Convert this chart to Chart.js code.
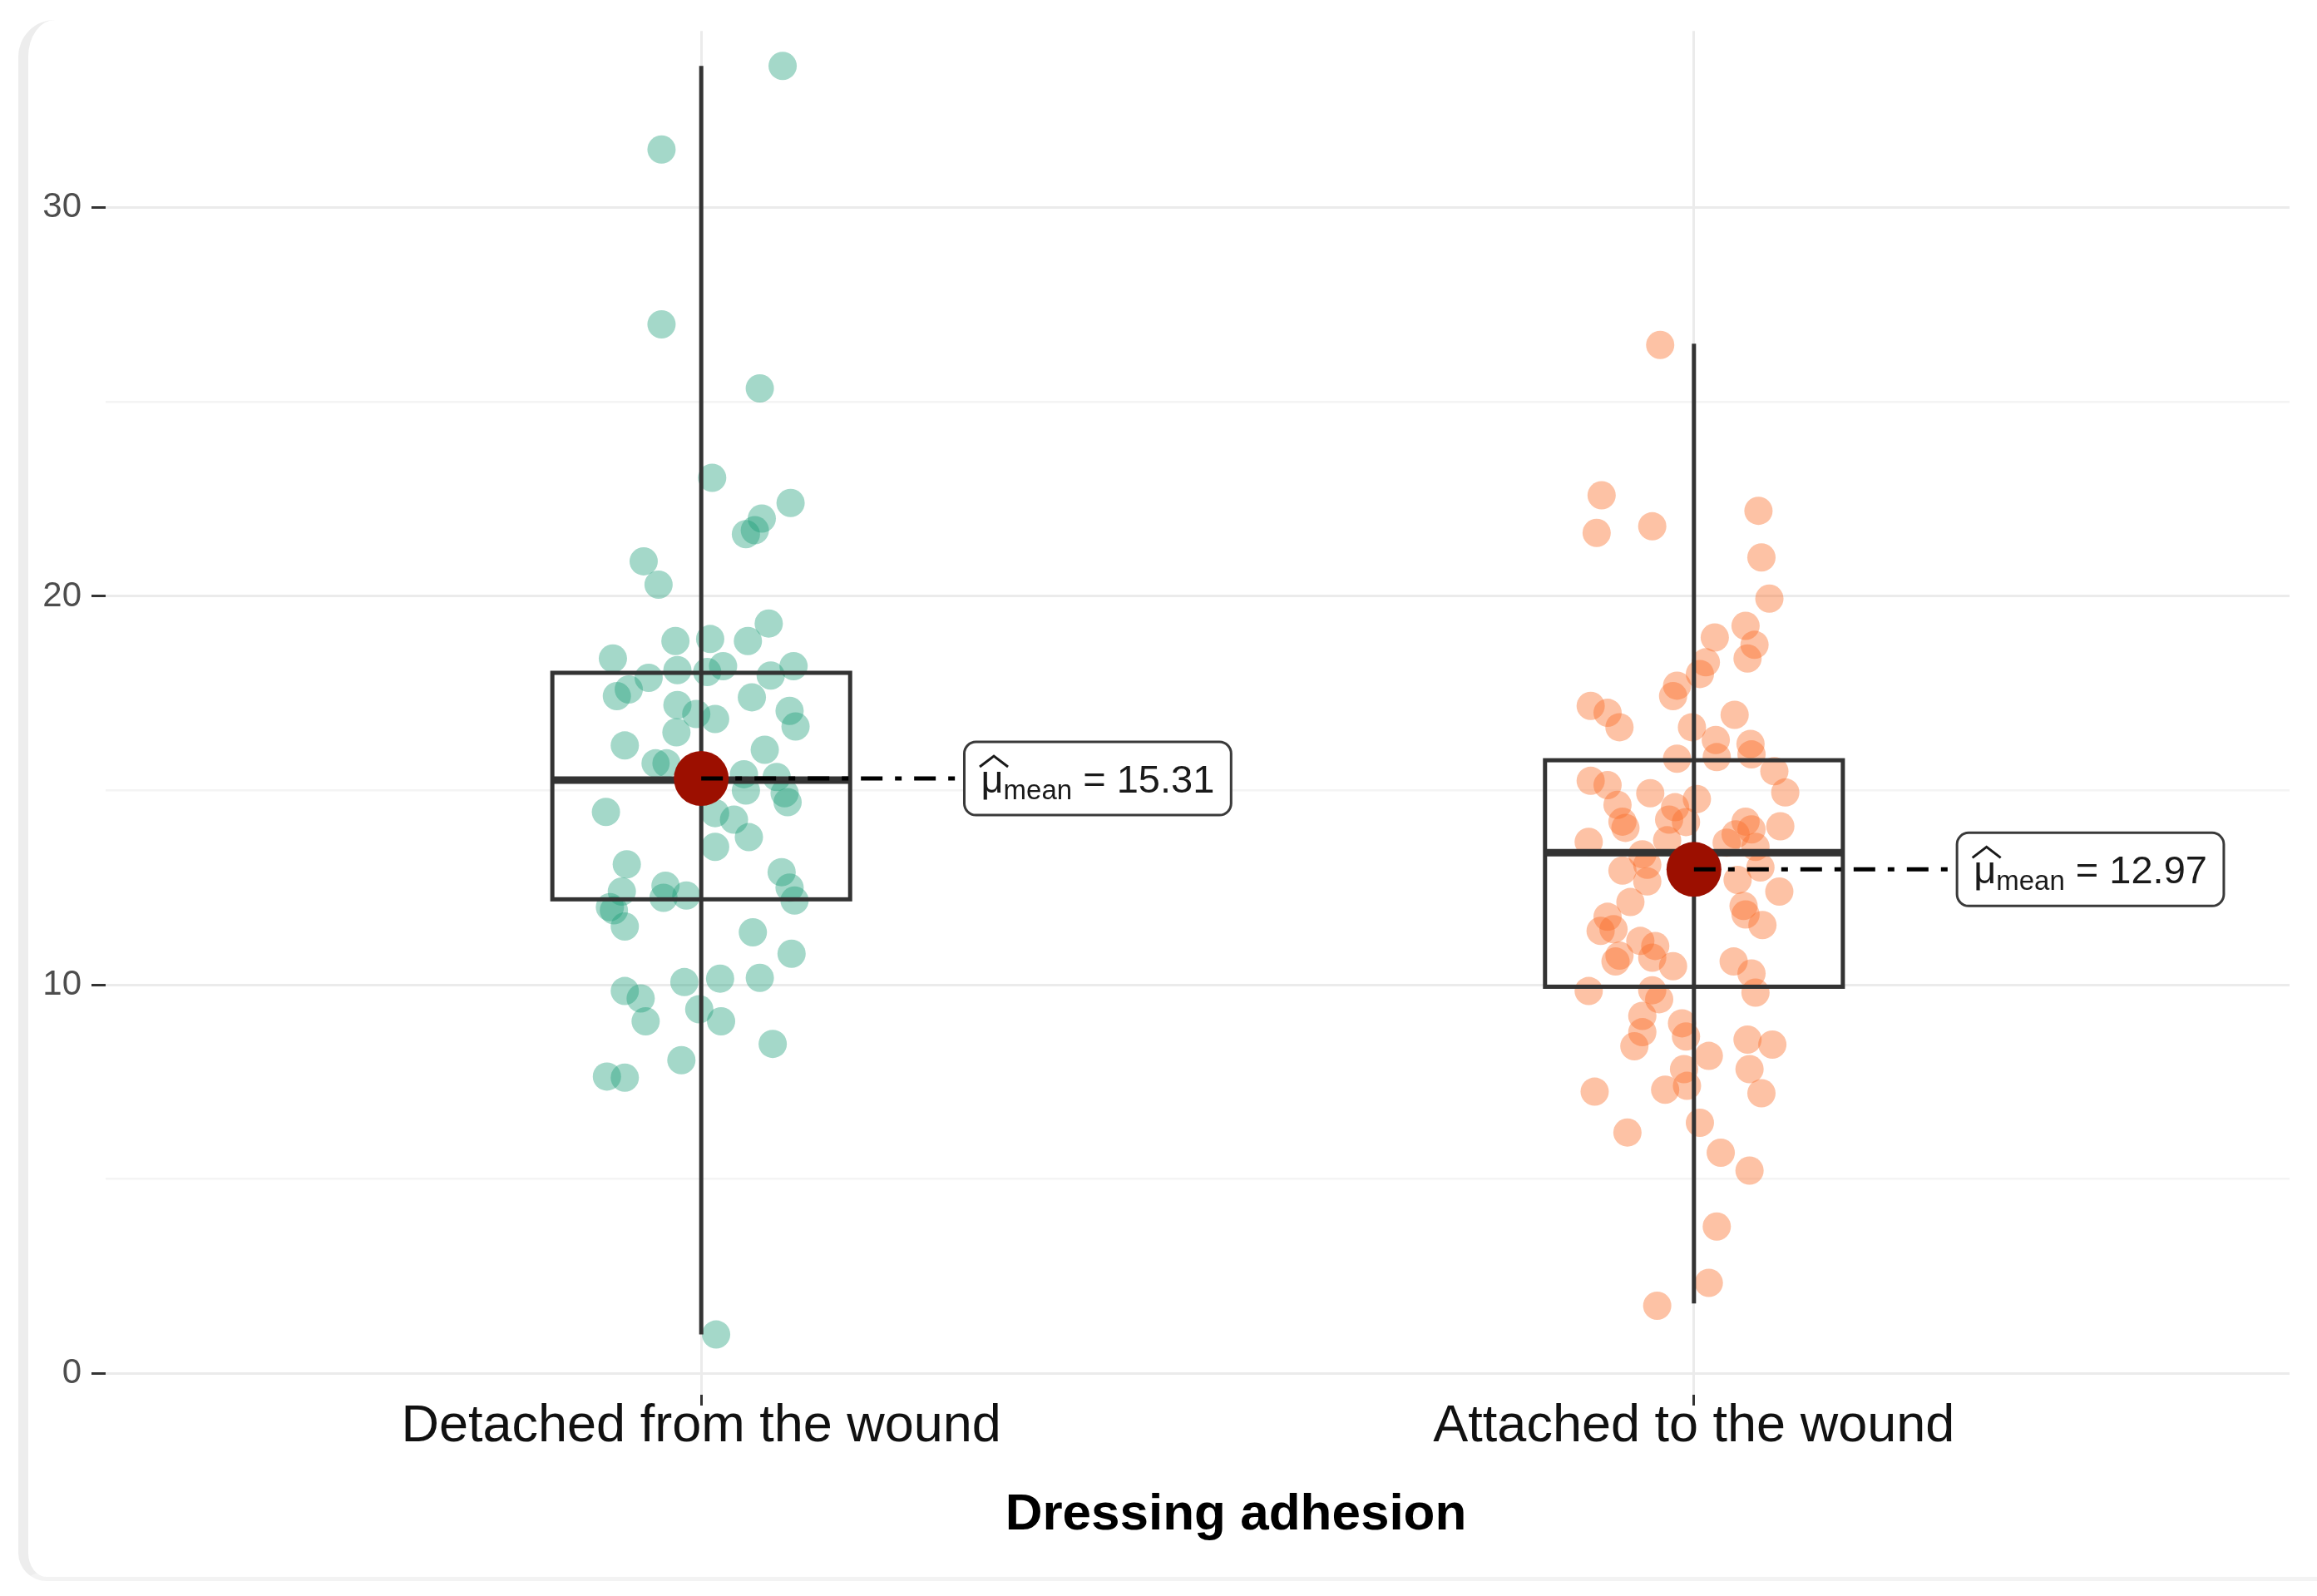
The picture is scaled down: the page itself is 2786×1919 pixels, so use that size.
<!DOCTYPE html>
<html>
<head>
<meta charset="utf-8">
<title>Dressing adhesion</title>
<script src="https://cdn.jsdelivr.net/npm/chart.js@4.4.1/dist/chart.umd.min.js"></script>
<style>
  html, body { margin: 0; padding: 0; background: #fff; overflow: hidden; }
  #frame {
    position: absolute; left: 22px; top: 24px; width: 2900px; height: 1872px;
    border-left: 12px solid #ededed; border-bottom: 5px solid #f3f3f3;
    border-radius: 44px 0 0 34px;
  }
  #chart { position: absolute; left: 0; top: 0; width: 2786px; height: 1919px; }
</style>
</head>
<body>
<div id="frame"></div>
<canvas id="chart" width="2786" height="1919"></canvas>
<script>
// groups on the x axis
const groups = ['Detached from the wound', 'Attached to the wound'];
const xTitle = 'Dressing adhesion';

// raw observations (y) and their horizontal jitter (in category units)
const detachedValues = [33.65, 31.5, 27.0, 25.35, 23.05, 22.4, 22.0, 21.6, 21.7, 20.9,
  20.3, 19.3, 18.85, 18.9, 18.85, 18.4, 18.2, 18.05, 18.2, 17.96,
  18.1, 17.9, 17.6, 17.43, 17.2, 16.97, 16.84, 17.4, 17.05, 16.65,
  16.5, 16.16, 16.05, 15.7, 15.7, 15.42, 15.35, 15.0, 14.93, 14.7,
  14.45, 14.42, 14.25, 13.8, 13.55, 13.1, 12.9, 12.5, 12.17, 12.4,
  12.55, 12.24, 12.3, 11.92, 12.0, 11.5, 11.35, 10.8, 10.07, 10.16,
  10.18, 9.84, 9.65, 9.06, 9.37, 9.06, 8.48, 8.06, 7.64, 7.61, 1.0];
const detachedJitter = [0.082, -0.040, -0.040, 0.059, 0.011, 0.090, 0.061, 0.045, 0.054, -0.058,
  -0.043, 0.068, -0.026, 0.009, 0.047, -0.089, 0.022, 0.006, 0.093, 0.070,
  -0.024, -0.053, -0.073, -0.085, -0.024, -0.005, 0.014, 0.051, 0.089, 0.095,
  -0.025, -0.077, 0.064, -0.046, -0.035, 0.043, 0.076, 0.045, 0.084, 0.087,
  -0.096, 0.014, 0.033, 0.048, 0.014, -0.075, 0.081, 0.089, 0.094, -0.080,
  -0.036, -0.038, -0.015, -0.088, -0.092, -0.077, 0.052, 0.091, -0.017, 0.019,
  0.059, -0.077, -0.061, -0.056, -0.002, 0.020, 0.072, -0.020, -0.095, -0.077, 0.015];

const attachedValues = [26.47, 22.6, 21.63, 21.8, 22.2, 21.0, 19.94, 19.24, 18.75, 18.4,
  18.94, 18.3, 18.0, 17.7, 17.43, 17.18, 17.0, 16.63, 16.63, 16.95,
  16.3, 16.2, 15.82, 15.86, 15.93, 15.5, 14.95, 15.25, 15.14, 14.93,
  14.63, 14.78, 14.57, 14.2, 14.04, 14.25, 14.19, 14.2, 14.0, 14.08,
  13.87, 13.68, 13.72, 13.66, 13.55, 13.36, 12.94, 13.09, 12.7, 13.02,
  12.66, 12.4, 12.13, 11.75, 11.39, 11.43, 12.03, 11.81, 11.54, 11.13,
  11.0, 10.7, 10.6, 10.75, 10.48, 10.6, 10.29, 9.84, 9.86, 9.63,
  9.8, 9.2, 9.01, 8.67, 8.78, 8.42, 8.17, 8.59, 8.46, 7.83,
  7.83, 7.4, 7.3, 7.25, 7.21, 6.2, 6.45, 5.68, 5.22, 3.78,
  2.33, 1.74];
const attachedJitter = [-0.034, -0.093, -0.098, -0.042, 0.065, 0.068, 0.076, 0.052, 0.061, 0.054,
  0.021, 0.012, 0.006, -0.017, -0.021, -0.104, -0.087, -0.075, -0.002, 0.041,
  0.022, 0.057, -0.017, 0.023, 0.058, 0.081, 0.092, -0.104, -0.087, -0.044,
  -0.077, 0.003, -0.019, -0.072, -0.069, -0.025, -0.008, 0.052, 0.058, 0.087,
  0.042, -0.106, -0.027, 0.033, 0.062, -0.052, -0.072, -0.047, 0.044, 0.067,
  -0.047, 0.086, -0.064, -0.087, -0.094, -0.081, 0.050, 0.052, 0.069, -0.054,
  -0.039, -0.042, -0.079, -0.075, -0.021, 0.040, 0.058, -0.106, -0.042, -0.035,
  0.062, -0.052, -0.012, -0.008, -0.052, -0.060, 0.015, 0.054, 0.079, 0.056,
  -0.010, -0.007, -0.029, -0.100, 0.068, -0.067, 0.006, 0.027, 0.056, 0.023,
  0.015, -0.037];

// box plot summaries, one entry per group
const boxQ1 = [12.2, 9.95];
const boxMedian = [15.27, 13.4];
const boxQ3 = [18.03, 15.78];
const whiskerLow = [1.0, 1.8];
const whiskerHigh = [33.65, 26.5];

// group means and their labels
const means = [15.31, 12.97];
const meanLabels = ['15.31', '12.97'];

// y axis ticks (labelled) and minor grid
const yTicks = [0, 10, 20, 30];
const yMinorTicks = [5, 15, 25];

const FONT = "'Liberation Sans', Arial, sans-serif";
const BOX_HALF = 0.15;      // half box width, category units
const LABEL_OFFSET = 0.265; // label box left edge, from group centre
const TITLE_SHIFT = 46;     // title sits a little right of the panel centre

function toPoints(values, jitter, g) {
  return values.map((v, i) => ({ x: g + jitter[i], y: v }));
}

const boxPlugin = {
  id: 'boxes',
  beforeDatasetDraw(chart, args) {
    if (args.index !== 2) return; // draw boxes just before the mean points
    const { ctx, scales: { x, y } } = chart;
    ctx.save();
    ctx.strokeStyle = '#333333';
    groups.forEach((g, i) => {
      const cx = x.getPixelForValue(i + 1);
      const left = x.getPixelForValue(i + 1 - BOX_HALF);
      const right = x.getPixelForValue(i + 1 + BOX_HALF);
      // whisker, full range
      ctx.lineWidth = 5;
      ctx.beginPath();
      ctx.moveTo(cx, y.getPixelForValue(whiskerLow[i]));
      ctx.lineTo(cx, y.getPixelForValue(whiskerHigh[i]));
      ctx.stroke();
      // box
      ctx.lineWidth = 5;
      const top = y.getPixelForValue(boxQ3[i]);
      const bot = y.getPixelForValue(boxQ1[i]);
      ctx.strokeRect(left, top, right - left, bot - top);
      // median
      ctx.lineWidth = 9;
      ctx.beginPath();
      const my = y.getPixelForValue(boxMedian[i]);
      ctx.moveTo(left, my);
      ctx.lineTo(right, my);
      ctx.stroke();
    });
    ctx.restore();
  },
  afterDatasetsDraw(chart) {
    const { ctx, scales: { x, y } } = chart;
    ctx.save();
    groups.forEach((g, i) => {
      const cx = x.getPixelForValue(i + 1);
      const cy = y.getPixelForValue(means[i]);
      const bx = x.getPixelForValue(i + 1 + LABEL_OFFSET);

      // dash-dot connector
      ctx.strokeStyle = '#000';
      ctx.lineWidth = 5;
      ctx.setLineDash([26, 15, 8, 15]);
      ctx.beginPath();
      ctx.moveTo(cx, cy);
      ctx.lineTo(bx, cy);
      ctx.stroke();
      ctx.setLineDash([]);

      // label text pieces
      const big = '47px ' + FONT;
      const small = '33px ' + FONT;
      ctx.font = big;
      const wMu = ctx.measureText('\u03bc').width;
      const wEq = ctx.measureText(' = ').width;
      const wNum = ctx.measureText(meanLabels[i]).width;
      ctx.font = small;
      const wSub = ctx.measureText('mean').width;
      const pad = 20;
      const w = pad * 2 + wMu + wSub + wEq + wNum;
      const h = 88;

      ctx.fillStyle = '#ffffff';
      ctx.strokeStyle = '#3a3a3a';
      ctx.lineWidth = 3;
      ctx.beginPath();
      ctx.roundRect(bx, cy - h / 2, w, h, 14);
      ctx.fill();
      ctx.stroke();

      const base = cy + 17;
      let tx = bx + pad;
      ctx.fillStyle = '#1a1a1a';
      ctx.textBaseline = 'alphabetic';
      ctx.textAlign = 'left';
      ctx.font = big;
      ctx.fillText('\u03bc', tx, base);
      // hat over mu
      ctx.strokeStyle = '#1a1a1a';
      ctx.lineWidth = 3;
      ctx.beginPath();
      const hx = tx + wMu / 2 + 2;
      ctx.moveTo(hx - 17, base - 31);
      ctx.lineTo(hx, base - 44);
      ctx.lineTo(hx + 17, base - 31);
      ctx.stroke();
      tx += wMu;
      ctx.font = small;
      ctx.fillText('mean', tx, base + 8);
      tx += wSub;
      ctx.font = big;
      ctx.fillText(' = ', tx, base);
      tx += wEq;
      ctx.fillText(meanLabels[i], tx, base);
    });
    ctx.restore();
  },
  afterDraw(chart) {
    // x axis title
    const { ctx, chartArea } = chart;
    ctx.save();
    ctx.font = 'bold 62px ' + FONT;
    ctx.fillStyle = '#000000';
    ctx.textAlign = 'center';
    ctx.textBaseline = 'middle';
    ctx.fillText(xTitle, (chartArea.left + chartArea.right) / 2 + TITLE_SHIFT, chart.height - 97);
    ctx.restore();
  }
};

const ctx = document.getElementById('chart');
const chart = new Chart(ctx, {
  type: 'scatter',
  data: {
    datasets: [
      {
        label: groups[0],
        data: toPoints(detachedValues, detachedJitter, 1),
        backgroundColor: 'rgba(27,158,119,0.4)',
        borderWidth: 0,
        pointRadius: 17,
        order: 1
      },
      {
        label: groups[1],
        data: toPoints(attachedValues, attachedJitter, 2),
        backgroundColor: 'rgba(250,110,40,0.42)',
        borderWidth: 0,
        pointRadius: 17,
        order: 2
      },
      {
        label: 'mean',
        data: means.map((m, i) => ({ x: i + 1, y: m })),
        backgroundColor: '#9c0f00',
        borderWidth: 0,
        pointRadius: 33,
        order: 0
      }
    ]
  },
  options: {
    responsive: false,
    animation: false,
    devicePixelRatio: 1,
    layout: { padding: { left: 0, right: 14, top: 24, bottom: 0 } },
    plugins: {
      legend: { display: false },
      tooltip: { enabled: false }
    },
    scales: {
      x: {
        type: 'linear',
        min: 0.4,
        max: 2.6,
        afterBuildTicks: (s) => { s.ticks = groups.map((g, i) => ({ value: i + 1 })); },
        afterFit: (s) => { s.height = 242; },
        border: { display: false },
        grid: {
          color: '#ebebeb',
          lineWidth: 3,
          tickColor: '#333333',
          tickLength: 13
        },
        ticks: {
          callback: (v) => groups[v - 1],
          font: { family: FONT, size: 63 },
          color: '#111111',
          padding: -12,
          maxRotation: 0,
          autoSkip: false
        }
      },
      y: {
        min: -0.55,
        max: 34.55,
        afterBuildTicks: (s) => {
          s.ticks = yTicks.concat(yMinorTicks).sort((a, b) => a - b).map(v => ({ value: v }));
        },
        afterFit: (s) => { s.width = 127; },
        border: { display: false },
        grid: {
          color: (c) => (c.tick && yTicks.includes(c.tick.value)) ? '#ebebeb' : '#f4f4f4',
          lineWidth: (c) => (c.tick && yTicks.includes(c.tick.value)) ? 3 : 2.5,
          tickColor: (c) => (c.tick && yTicks.includes(c.tick.value)) ? '#333333' : 'rgba(0,0,0,0)',
          tickLength: 17
        },
        ticks: {
          callback: (v) => yTicks.includes(v) ? String(v) : '',
          font: { family: FONT, size: 42 },
          color: '#4d4d4d',
          padding: 12
        }
      }
    }
  },
  plugins: [boxPlugin]
});
</script>
</body>
</html>
